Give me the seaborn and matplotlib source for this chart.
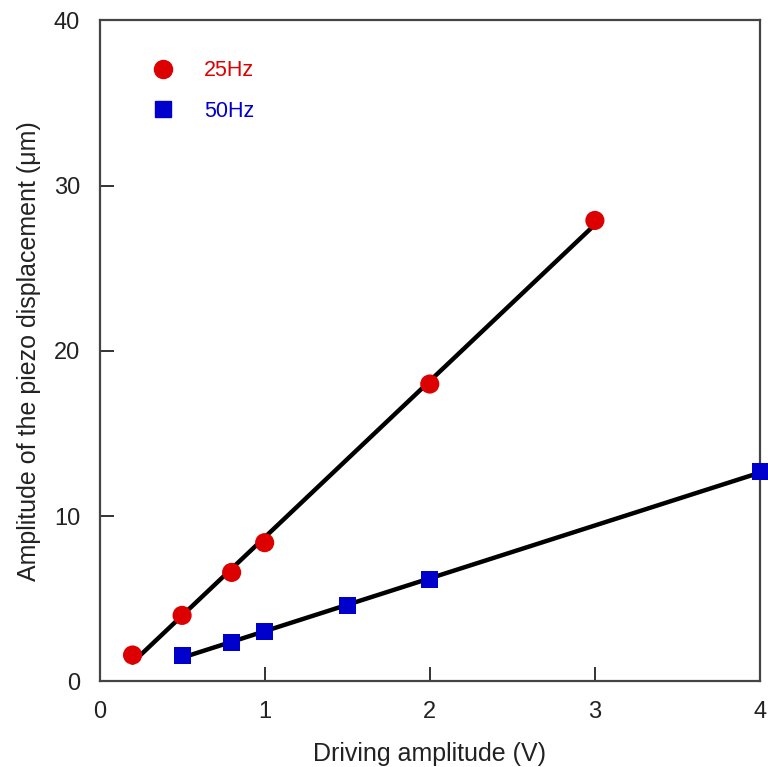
import numpy as np
import pandas as pd
import matplotlib
matplotlib.use("Agg")
import matplotlib.pyplot as plt
import seaborn as sns
from matplotlib.lines import Line2D

# Data
volt_25 = [0.2, 0.5, 0.8, 1.0, 2.0, 3.0]
disp_25 = [1.6, 4.0, 6.6, 8.4, 18.0, 27.9]
volt_50 = [0.5, 0.8, 1.0, 1.5, 2.0, 4.0]
disp_50 = [1.6, 2.35, 3.0, 4.6, 6.15, 12.7]
labels = ["25Hz", "50Hz"]
colors = ["#DD0000", "#0000CC"]
xticks = [0, 1, 2, 3, 4]
yticks = [0, 10, 20, 30, 40]

df = pd.DataFrame({
    "V": volt_25 + volt_50,
    "D": disp_25 + disp_50,
    "freq": [labels[0]] * len(volt_25) + [labels[1]] * len(volt_50),
})

sns.set_style("ticks")
plt.rcParams["font.family"] = ["Liberation Sans", "DejaVu Sans"]

fig = plt.figure(figsize=(7.68, 7.67), dpi=100)
ax = fig.add_axes([0.1296, 0.1115, 0.860, 0.8618])

for lab in labels:
    sub = df[df["freq"] == lab]
    sns.regplot(data=sub, x="V", y="D", ax=ax, ci=None, scatter=False,
                line_kws=dict(color="black", lw=3.2, zorder=2))

sns.scatterplot(data=df, x="V", y="D", hue="freq", style="freq",
                palette=dict(zip(labels, colors)),
                markers={labels[0]: "o", labels[1]: "s"},
                s=190, edgecolor="none", linewidth=0,
                ax=ax, zorder=3, clip_on=False, legend=False)
coll = ax.collections[-1]
sz = np.array([190 if f == labels[0] else 150 for f in df["freq"]])
coll.set_sizes(sz)

ax.set_xlim(0, 4)
ax.set_ylim(0, 40)
ax.set_xticks(xticks)
ax.set_yticks(yticks)
ax.set_xticklabels([str(t) for t in xticks])
ax.set_yticklabels([str(t) for t in yticks])
ax.tick_params(which="major", direction="in", length=10, width=1.4,
               color="#333333", labelcolor="#222222", labelsize=17, pad=14,
               bottom=True, left=True, top=False, right=False)
for sp in ax.spines.values():
    sp.set_visible(True)
    sp.set_color("#444444")
    sp.set_linewidth(1.6)

ax.set_xlabel("Driving amplitude (V)", fontsize=18, color="#222222", labelpad=14)
ax.set_ylabel("Amplitude of the piezo displacement (μm)", fontsize=18,
              color="#222222", labelpad=9)

handles = [
    Line2D([], [], marker="o", ls="none", color=colors[0], markersize=13),
    Line2D([], [], marker="s", ls="none", color=colors[1], markersize=11),
]
leg = ax.legend(handles, labels, loc="upper left", bbox_to_anchor=(0.064, 0.940),
                frameon=False, fontsize=15.5, borderpad=0, borderaxespad=0,
                handlelength=2.0, handletextpad=0.88, labelspacing=0.9)
for t, c in zip(leg.get_texts(), colors):
    t.set_color(c)

fig.savefig("out.png", dpi=100)
